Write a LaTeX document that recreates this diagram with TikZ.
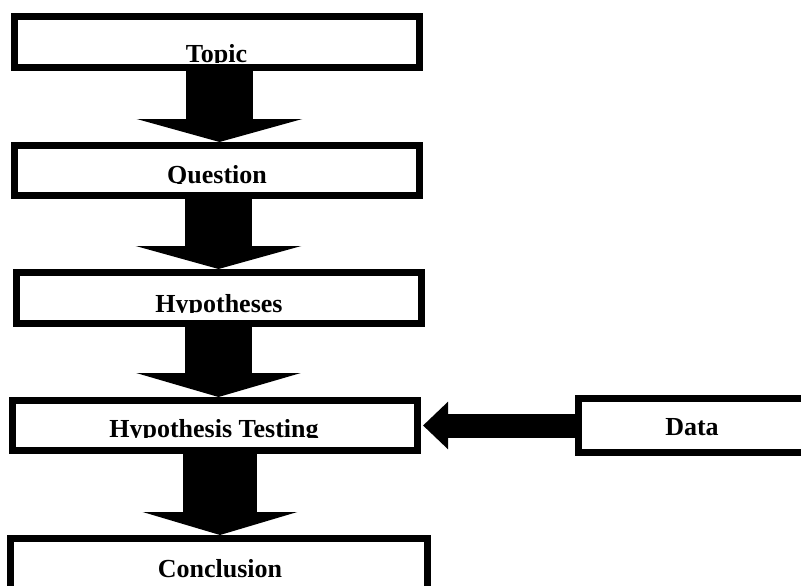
\documentclass[tikz,border=0pt]{standalone}
\usepackage{fontspec}
\setmainfont{Liberation Serif}
\usetikzlibrary{arrows.meta}
\begin{document}
\begin{tikzpicture}[x=1pt,y=-1pt,
  box/.style={draw=black,line width=7pt,fill=white,rectangle,inner sep=0pt,minimum width=405pt,minimum height=51pt},
  lbl/.style={inner sep=0pt,anchor=base,font=\bfseries\fontsize{26}{30}\selectfont},
  blockarrow/.style={draw=black,line width=67pt,-{Triangle[length=23pt,width=165pt]}}
]
\useasboundingbox (0,0) rectangle (801,586);
\clip (0,0) rectangle (801,586);
% boxes
\node[box] (topic) at (217,42) {};
\node[box,minimum height=50pt] (question) at (217,170.5) {};
\node[box] (hyp) at (219,298) {};
\node[box,minimum height=50pt] (test) at (215,425.5) {};
\node[box,minimum width=227pt,minimum height=54pt] (data) at (692,425.5) {};
\node[box,minimum width=417pt,minimum height=58pt] (concl) at (219,567.5) {};
% texts (cut at the baseline as in the reference)
\begin{scope}
  \clip (0,0) rectangle (801,63);
  \node[lbl] (ttopic) at (216.5,63) {Topic};
\end{scope}
\begin{scope}
  \clip (0,100) rectangle (801,183.5);
  \node[lbl] (tquestion) at (217,183.5) {Question};
\end{scope}
\begin{scope}
  \clip (0,250) rectangle (801,312);
  \node[lbl] (thyp) at (219,312) {Hypotheses};
\end{scope}
\begin{scope}
  \clip (0,380) rectangle (560,437);
  \node[lbl] (ttest) at (214,437) {Hypothesis Testing};
\end{scope}
\node[lbl] (tdata) at (692,435) {Data};
\node[lbl] (tconcl) at (220,577) {Conclusion};
% arrows
\draw[blockarrow] ([xshift=2.5pt]topic.south) -- ([xshift=2.5pt]question.north);
\draw[blockarrow] ([xshift=1.5pt]question.south) -- ([xshift=-0.5pt]hyp.north);
\draw[blockarrow,-{Triangle[length=24pt,width=164pt]}] ([xshift=-0.5pt]hyp.south) -- ([xshift=3.5pt]test.north);
\draw[blockarrow,line width=74pt,-{Triangle[length=23pt,width=154pt]}] ([xshift=5pt]test.south) -- ([xshift=1pt]concl.north);
\draw[blockarrow,line width=24pt,-{Triangle[length=25pt,width=46pt]}] (data.west) -- ([xshift=2pt]test.east);
\end{tikzpicture}
\end{document}
